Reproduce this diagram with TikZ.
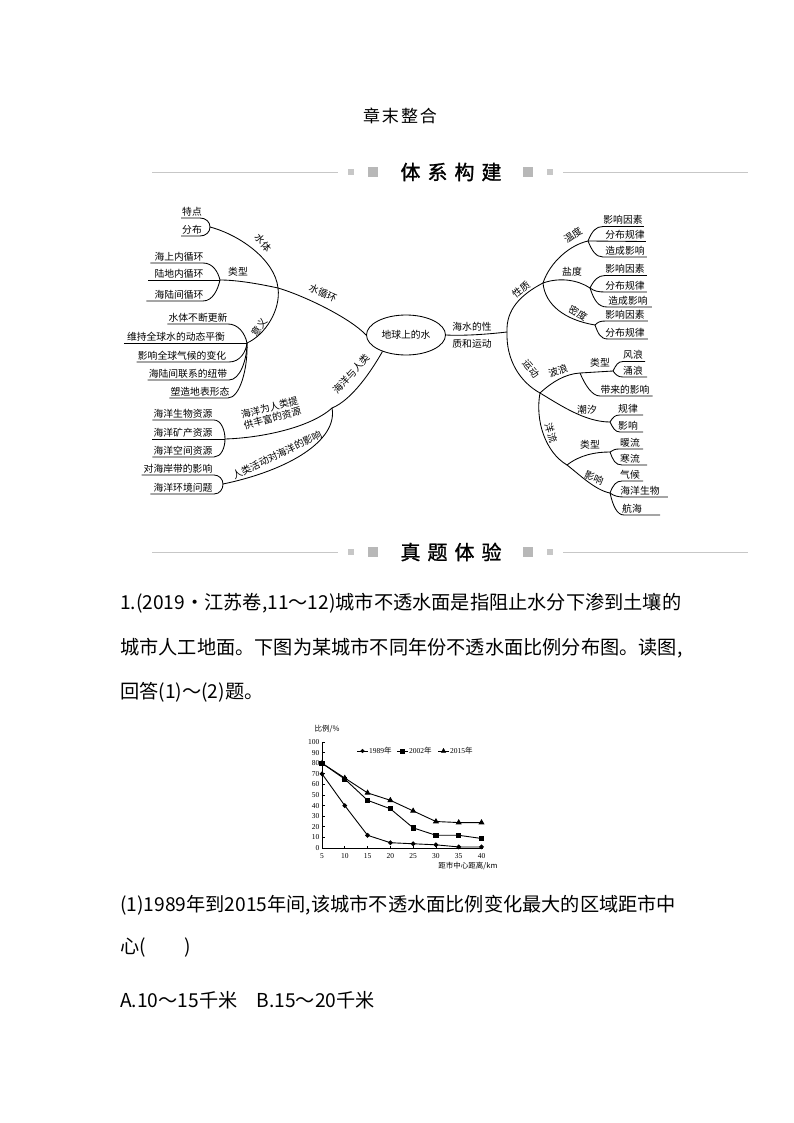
\documentclass[tikz,border=0pt]{standalone}
\usepackage{fontspec}
\setmainfont{Noto Sans CJK SC}
\newfontfamily\hdfont[FakeBold=1.2]{Noto Sans CJK SC}
\newfontfamily\tnr{Liberation Serif}
\usetikzlibrary{shapes.geometric,plotmarks}
\begin{document}
\begin{tikzpicture}[x=1pt,y=-1pt,
  br/.style={line width=0.85pt},
  mm/.style={font=\fontsize{9.8}{11}\selectfont, inner sep=0pt},
  leaf/.style={mm, anchor=south, inner xsep=0pt, inner ysep=1.6pt},
  body/.style={font=\fontsize{19.2}{21}\selectfont, anchor=west, inner sep=0pt},
  sepl/.style={draw=black!22, line width=0.9pt},
  sqbig/.style={fill=black!28},
  sqsmall/.style={fill=black!22},
  ax/.style={line width=0.7pt},
  dl/.style={line width=0.9pt},
  tk/.style={font=\tnr\fontsize{7.5}{8}\selectfont, inner sep=0pt},
  ck/.style={font=\fontsize{7.5}{8}\selectfont, inner sep=0pt}]
\useasboundingbox[fill=white] (0,0) rectangle (794,1123);

% ---------- title and section headers ----------
\node[font=\fontsize{17}{18}\selectfont] (title) at (400,116) {章\hspace{2pt}末\hspace{2pt}整\hspace{2pt}合};

\node[font=\hdfont\fontsize{20}{22}\selectfont] (h1) at (451,172) {体\hspace{7pt}系\hspace{7pt}构\hspace{7pt}建};
\draw[sepl] (152,172) -- (338,172);
\draw[sepl] (563,172) -- (748,172);
\fill[sqsmall] (348,169) rectangle (354,175);
\fill[sqbig] (368,167) rectangle (378,177);
\fill[sqbig] (523,167) rectangle (533,177);
\fill[sqsmall] (547,169) rectangle (553,175);

\node[font=\hdfont\fontsize{20}{22}\selectfont] (h2) at (451,552) {真\hspace{7pt}题\hspace{7pt}体\hspace{7pt}验};
\draw[sepl] (152,552) -- (338,552);
\draw[sepl] (563,552) -- (748,552);
\fill[sqsmall] (348,549) rectangle (354,555);
\fill[sqbig] (368,547) rectangle (378,557);
\fill[sqbig] (523,547) rectangle (533,557);
\fill[sqsmall] (547,549) rectangle (553,555);

% ---------- mind map: centre ----------
\node[ellipse, draw, br, minimum width=79pt, minimum height=40pt, mm] (E) at (406,335) {地球上的水};

% ---------- left side ----------
\coordinate (P1) at (210,227);
\coordinate (J1) at (278,288);
\coordinate (J7) at (247,343);
\coordinate (B1) at (220,280);
\coordinate (J6) at (332,408);
\coordinate (B2) at (225,439);
\coordinate (B3) at (223,484);

\draw[br] (P1) .. controls (240,235) and (275,260) .. (J1) .. controls (281,310) and (265,335) .. (J7);
\draw[br] (J1) .. controls (255,283) and (235,280) .. (B1);
\draw[br] (J1) .. controls (305,296) and (350,318) .. (E.west);
\draw[br] (E.215) .. controls (372,370) and (352,400) .. (J6);
\draw[br] (J6) .. controls (310,428) and (260,438) .. (B2);
\draw[br] (J6) .. controls (338,440) and (290,470) .. (B3);

\node[mm, rotate=-50] (l1) at (263,243) {水体};
\node[mm] (l2) at (238,272) {类型};
\node[mm, rotate=-24] (l3) at (323,293) {水循环};
\node[mm, rotate=55] (l4) at (259,327) {意义};
\node[mm, rotate=48] (l5) at (351,374) {海洋与人类};
\node[mm, rotate=15, align=center] (l6) at (271,413) {海洋为人类提\\供丰富的资源};
\node[mm, rotate=26] (l7) at (277,455) {人类活动对海洋的影响};

\node[leaf] (a1) at (192,218) {特点};
\node[leaf] (a2) at (192,236) {分布};
\draw[br] ([xshift=-1pt]a1.south west) -- (200,218) .. controls (206,218) and (210,222) .. (P1);
\draw[br] ([xshift=-1pt]a2.south west) -- (200,236) .. controls (206,236) and (210,232) .. (P1);

\node[leaf] (b1) at (179,263) {海上内循环};
\node[leaf] (b2) at (179,280) {陆地内循环};
\node[leaf] (b3) at (179,301) {海陆间循环};
\draw[br] ([xshift=-4pt]b1.south west) -- (203,263) .. controls (213,263) and (218,272) .. (B1);
\draw[br] ([xshift=-6pt]b2.south west) -- (B1);
\draw[br] ([xshift=-8pt]b3.south west) -- (203,301) .. controls (213,301) and (218,289) .. (B1);

\node[leaf] (c1) at (198,324) {水体不断更新};
\node[leaf] (c2) at (176,343) {维持全球水的动态平衡};
\node[leaf] (c3) at (182,362) {影响全球气候的变化};
\node[leaf] (c4) at (188,380) {海陆间联系的纽带};
\node[leaf] (c5) at (200,398) {塑造地表形态};
\draw[br] ([xshift=-1pt]c1.south west) -- (228,324) .. controls (238,324) and (245,333) .. (J7);
\draw[br] ([xshift=-3pt]c2.south west) -- (J7);
\draw[br] ([xshift=-1pt]c3.south west) -- (229,362) .. controls (240,362) and (246,352) .. (J7);
\draw[br] ([xshift=-1pt]c4.south west) -- (229,380) .. controls (240,380) and (247,360) .. (J7);
\draw[br] ([xshift=-1pt]c5.south west) -- (228,398) .. controls (240,398) and (248,368) .. (J7);

\node[leaf] (d1) at (183,420) {海洋生物资源};
\node[leaf] (d2) at (183,439) {海洋矿产资源};
\node[leaf] (d3) at (183,457) {海洋空间资源};
\draw[br] ([xshift=-1pt]d1.south west) -- (214,420) .. controls (221,420) and (225,430) .. (B2);
\draw[br] ([xshift=-1pt]d2.south west) -- (B2);
\draw[br] ([xshift=-1pt]d3.south west) -- (214,457) .. controls (221,457) and (225,448) .. (B2);

\node[leaf] (e1) at (178,475) {对海岸带的影响};
\node[leaf] (e2) at (183,494) {海洋环境问题};
\draw[br] ([xshift=-2pt]e1.south west) -- (214,475) .. controls (219,475) and (223,479) .. (B3);
\draw[br] ([xshift=-3pt]e2.south west) -- (214,494) .. controls (220,494) and (223,489) .. (B3);

% ---------- right side ----------
\coordinate (J2) at (507,332);
\coordinate (J3) at (543,283);
\coordinate (J4) at (540,393);
\coordinate (J5) at (567,465);
\coordinate (W) at (580,373);
\coordinate (B4) at (610,422);
\coordinate (B5) at (613,371);
\coordinate (B6) at (610,452);
\coordinate (B7) at (610,493);
\coordinate (B8) at (588,241);
\coordinate (B9) at (590,288);
\coordinate (B10) at (595,325);

\draw[br] (E.east) .. controls (465,336) and (490,334) .. (J2);
\node[mm] (r1) at (472,327) {海水的性};
\node[mm] (r2) at (472,344) {质和运动};
\draw[br] (J2) .. controls (506,310) and (520,295) .. (J3);
\draw[br] (J2) .. controls (506,360) and (520,382) .. (J4);
\node[mm, rotate=38] (r3) at (521,290) {性质};
\node[mm, rotate=-50] (r4) at (531,369) {运动};

\draw[br] (J3) .. controls (550,262) and (570,245) .. (B8);
\draw[br] (J3) .. controls (560,277) and (578,280) .. (B9);
\draw[br] (J3) .. controls (545,305) and (565,320) .. (B10);
\node[mm, rotate=35] (r5) at (573,235) {温度};
\node[mm] (r6) at (572,272) {盐度};
\node[mm, rotate=-30] (r7) at (578,313) {密度};

\node[leaf] (g1) at (623,226.5) {影响因素};
\node[leaf] (g2) at (625,241.5) {分布规律};
\node[leaf] (g3) at (625,257) {造成影响};
\draw[br] (B8) .. controls (592,231) and (596,226.5) .. (603,226.5) -- ([xshift=1pt]g1.south east);
\draw[br] (B8) -- ([xshift=1pt]g2.south east);
\draw[br] (B8) .. controls (592,251) and (596,257) .. (603,257) -- ([xshift=2pt]g3.south east);

\node[leaf] (h1) at (625,275.5) {影响因素};
\node[leaf] (h2) at (625,292) {分布规律};
\node[leaf] (h3) at (628,307) {造成影响};
\draw[br] (B9) .. controls (594,280) and (598,275.5) .. (605,275.5) -- ([xshift=2pt]h1.south east);
\draw[br] (B9) .. controls (594,291) and (598,292) .. (605,292) -- ([xshift=2pt]h2.south east);
\draw[br] (B9) .. controls (594,300) and (598,307) .. (607,307) -- ([xshift=4pt]h3.south east);

\node[leaf] (i1) at (625,321) {影响因素};
\node[leaf] (i2) at (625,339) {分布规律};
\draw[br] (B10) .. controls (598,322) and (600,321) .. (606,321) -- ([xshift=3pt]i1.south east);
\draw[br] (B10) .. controls (598,333) and (600,339) .. (608,339) -- ([xshift=3pt]i2.south east);

\draw[br] (J4) .. controls (560,405) and (585,422) .. (B4);
\draw[br] (J4) .. controls (552,382) and (565,374) .. (W);
\draw[br] (J4) .. controls (535,420) and (545,452) .. (J5);
\node[mm, rotate=20] (r8) at (558,371) {波浪};
\node[mm] (r9) at (587,410) {潮汐};
\node[mm, rotate=-72] (r10) at (551,433) {洋流};

\draw[br] (W) -- (B5);
\node[mm] (r11) at (600,363) {类型};
\node[leaf] (j1) at (633,361.5) {风浪};
\node[leaf] (j2) at (633,377) {涌浪};
\draw[br] (B5) .. controls (616,365) and (618,361.5) .. (623,361.5) -- ([xshift=2pt]j1.south east);
\draw[br] (B5) .. controls (616,375) and (618,377) .. (623,377) -- ([xshift=4pt]j2.south east);
\node[leaf] (f1) at (625,396) {带来的影响};
\draw[br] (W) .. controls (585,385) and (592,396) .. (600,396) -- ([xshift=3pt]f1.south east);

\node[leaf] (k1) at (628,415) {规律};
\node[leaf] (k2) at (628,432) {影响};
\draw[br] (B4) .. controls (613,417) and (615,415) .. (620,415) -- ([xshift=5pt]k1.south east);
\draw[br] (B4) .. controls (613,428) and (615,432) .. (620,432) -- ([xshift=5pt]k2.south east);

\draw[br] (J5) .. controls (580,455) and (595,452) .. (B6);
\draw[br] (J5) .. controls (580,475) and (595,490) .. (B7);
\node[mm] (r12) at (590,445) {类型};
\node[mm, rotate=-22] (r13) at (594,478) {影响};

\node[leaf] (m1) at (630,449) {暖流};
\node[leaf] (m2) at (630,465) {寒流};
\draw[br] (B6) .. controls (613,450) and (615,449) .. (619,449) -- ([xshift=3pt]m1.south east);
\draw[br] (B6) .. controls (613,460) and (615,465) .. (622,465) -- ([xshift=7pt]m2.south east);

\node[leaf] (n1) at (630,481) {气候};
\node[leaf] (n2) at (640,497) {海洋生物};
\node[leaf] (n3) at (632,515) {航海};
\draw[br] (B7) .. controls (613,485) and (616,481) .. (622,481) -- ([xshift=3pt]n1.south east);
\draw[br] (B7) .. controls (614,496) and (618,497) .. (624,497) -- ([xshift=8pt]n2.south east);
\draw[br] (B7) .. controls (613,506) and (617,515) .. (624,515) -- ([xshift=18pt]n3.south east);

% ---------- body text ----------
\node[body] (t1) at (120,603) {1.(2019·江苏卷,11～12)城市不透水面是指阻止水分下渗到土壤的};
\node[body] (t2) at (120,648) {城市人工地面。下图为某城市不同年份不透水面比例分布图。读图,};
\node[body] (t3) at (120,692) {回答(1)～(2)题。};

% ---------- chart ----------
\node[ck] (yt) at (327,729) {比例/\%};
\node[ck] (xt) at (468,866) {距市中心距离/km};
\begin{scope}[shift={(322,848)}, x=4.557pt, y=1.06pt]
  \draw[ax] (0,0) -- (35.3,0);
  \draw[ax] (0,0) -- (0,100);
  \foreach \v in {10,20,...,100} \draw[ax] (0,\v) -- +(2.5pt,0pt);
  \foreach \v in {0,10,...,100} \node[tk, anchor=east] (yl\v) at ([xshift=-2.5pt]0,\v) {\v};
  \foreach \d in {10,15,...,40} \draw[ax] (\d-5,0) -- +(0pt,2.5pt);
  \foreach \d in {5,10,...,40} \node[tk] (xl\d) at ([yshift=-8.5pt]\d-5,0) {\d};
  \draw[dl, mark=*, mark size=1.9pt] plot coordinates {(0,70) (5,40) (10,12) (15,5) (20,4) (25,3) (30,1) (35,1)};
  \draw[dl, mark=square*, mark size=2.1pt] plot coordinates {(0,80) (5,65) (10,45) (15,37) (20,19) (25,12) (30,12) (35,9)};
  \draw[dl, mark=triangle*, mark size=2.6pt] plot coordinates {(0,80) (5,66) (10,52) (15,45) (20,35) (25,25) (30,24) (35,24)};
\end{scope}
% legend
\draw[dl] (357,751) -- (368,751);
\draw plot[only marks, mark=*, mark size=1.9pt] coordinates {(362.5,751)};
\node[ck, anchor=west] (lg1) at (369,751) {{\tnr 1989}年};
\draw[dl] (397,751) -- (408,751);
\draw plot[only marks, mark=square*, mark size=2.1pt] coordinates {(402.5,751)};
\node[ck, anchor=west] (lg2) at (409,751) {{\tnr 2002}年};
\draw[dl] (438,751) -- (449,751);
\draw plot[only marks, mark=triangle*, mark size=2.6pt] coordinates {(443.5,751)};
\node[ck, anchor=west] (lg3) at (450,751) {{\tnr 2015}年};

% ---------- question ----------
\node[body] (q1) at (120,905) {(1)1989年到2015年间,该城市不透水面比例变化最大的区域距市中};
\node[body] (q2) at (120,948) {心(\hspace{2em})};
\node[body] (q3) at (120,1000) {A.10～15千米\hspace{1em}B.15～20千米};
\end{tikzpicture}
\end{document}
